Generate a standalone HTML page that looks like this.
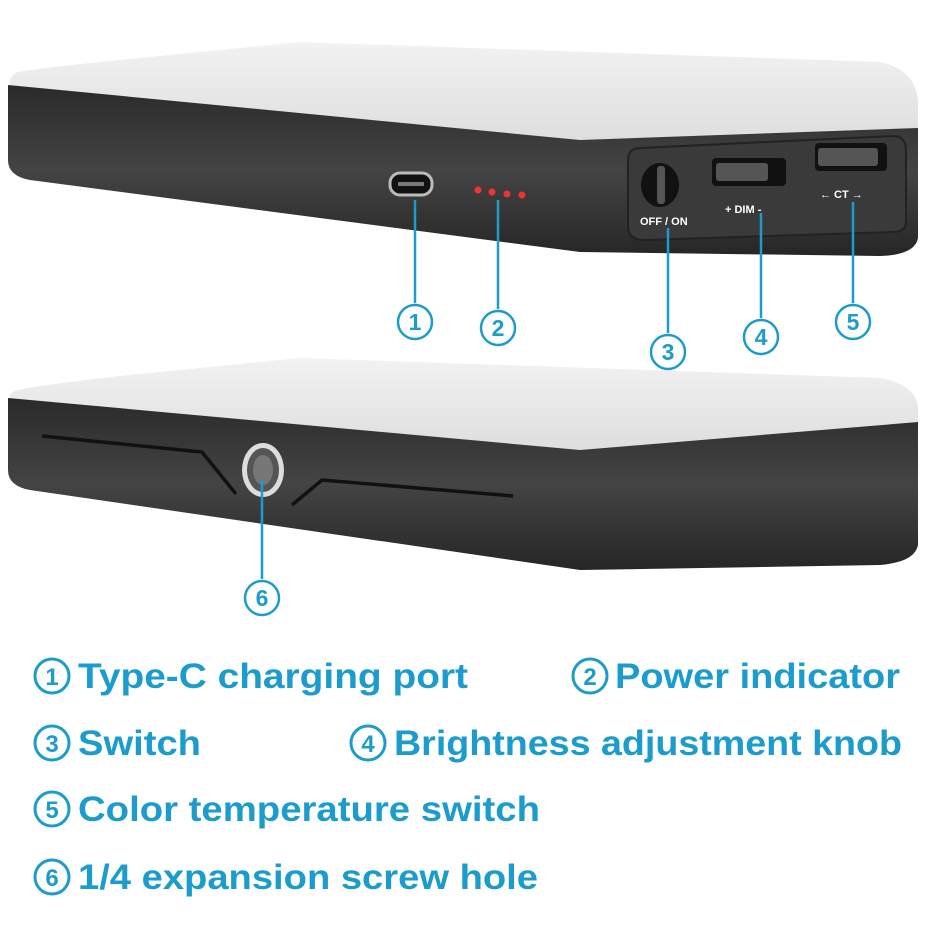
<!DOCTYPE html><html><head><style>body{margin:0;background:#fff}svg{display:block}</style></head><body>
<svg width="930" height="930" viewBox="0 0 930 930" xmlns="http://www.w3.org/2000/svg" font-family="Liberation Sans, DejaVu Sans, sans-serif">
<defs>
<linearGradient id="top" x1="0" y1="0" x2="0" y2="1"><stop offset="0" stop-color="#f2f2f2"/><stop offset="1" stop-color="#dedede"/></linearGradient>
<linearGradient id="body" x1="0" y1="0" x2="0" y2="1"><stop offset="0" stop-color="#2a2a2a"/><stop offset=".5" stop-color="#444"/><stop offset="1" stop-color="#262626"/></linearGradient>
</defs>
<!-- device 1 -->
<path d="M18,72 Q40,68 120,60 L300,42 L880,62 Q918,70 918,105 L918,130 L580,140 L10,88 Q8,76 18,72 Z" fill="url(#top)"/>
<path d="M8,85 L580,140 L918,128 L918,238 Q915,255 880,256 L580,252 L30,180 Q8,176 8,160 Z" fill="url(#body)"/>
<path d="M640,148 L892,136 Q906,136 906,150 L906,222 Q906,232 892,232 L645,240 Q628,240 628,226 L628,160 Q628,148 640,148Z" fill="#3a3a3a" stroke="#222" stroke-width="2"/>
<rect x="390" y="173" width="42" height="22" rx="10" fill="#111" stroke="#bbb" stroke-width="3"/>
<rect x="398" y="182" width="26" height="4" fill="#777"/>
<g fill="#e33"><circle cx="478" cy="190" r="3.5"/><circle cx="492" cy="192" r="3.5"/><circle cx="507" cy="194" r="3.5"/><circle cx="522" cy="195" r="3.5"/></g>
<ellipse cx="660" cy="185" rx="19" ry="22" fill="#111"/><rect x="657" y="166" width="8" height="38" rx="3" fill="#555"/>
<rect x="712" y="158" width="74" height="28" rx="4" fill="#111"/><rect x="716" y="163" width="52" height="18" rx="3" fill="#555"/>
<rect x="815" y="143" width="72" height="28" rx="4" fill="#111"/><rect x="818" y="148" width="60" height="18" rx="3" fill="#555"/>
<g fill="#fff" font-size="11" font-weight="bold"><text x="640" y="225">OFF / ON</text><text x="725" y="213">+  DIM  -</text><text x="820" y="198">←  CT  →</text></g>
<!-- device 2 -->
<path d="M18,390 Q40,385 120,376 L300,358 L880,378 Q918,385 918,410 L918,422 L580,450 L10,402 Q8,392 18,390 Z" fill="url(#top)"/>
<path d="M8,398 L580,450 L918,422 L918,545 Q915,562 880,565 L580,570 L30,490 Q8,486 8,470 Z" fill="url(#body)"/>
<path d="M42,436 L202,452 L236,494" fill="none" stroke="#111" stroke-width="3.5"/>
<path d="M513,496 L322,480 L292,505" fill="none" stroke="#111" stroke-width="3.5"/>
<ellipse cx="263" cy="470" rx="21" ry="27" fill="#ddd"/><ellipse cx="263" cy="470" rx="16" ry="22" fill="#555"/><ellipse cx="263" cy="470" rx="10" ry="15" fill="#777"/>
<!-- leaders -->
<g stroke="#1b9ccc" stroke-width="2.5" fill="none">
<line x1="415" y1="200" x2="415" y2="303"/><line x1="498" y1="200" x2="498" y2="309"/>
<line x1="668" y1="228" x2="668" y2="333"/><line x1="761" y1="213" x2="761" y2="318"/>
<line x1="853" y1="202" x2="853" y2="303"/><line x1="262" y1="480" x2="262" y2="579"/>
<circle cx="415" cy="322" r="17"/><circle cx="498" cy="328" r="17"/><circle cx="668" cy="352" r="17"/>
<circle cx="761" cy="337" r="17"/><circle cx="853" cy="322" r="17"/><circle cx="262" cy="598" r="17"/>
</g>
<g fill="#1b9ccc" font-size="23" font-weight="bold" text-anchor="middle"><text x="415" y="330">1</text><text x="498" y="336">2</text><text x="668" y="360">3</text><text x="761" y="345">4</text><text x="853" y="330">5</text><text x="262" y="606">6</text></g>
<!-- legend -->
<g stroke="#1b9ccc" stroke-width="3" fill="none">
<circle cx="52" cy="676" r="17"/><circle cx="590" cy="676" r="17"/><circle cx="52" cy="743" r="17"/><circle cx="368" cy="743" r="17"/><circle cx="52" cy="809" r="17"/><circle cx="52" cy="877" r="17"/>
</g>
<g fill="#1b9ccc" font-size="24" font-weight="bold" text-anchor="middle"><text x="52" y="685">1</text><text x="590" y="685">2</text><text x="52" y="752">3</text><text x="368" y="752">4</text><text x="52" y="818">5</text><text x="52" y="886">6</text></g>
<g fill="#1b9ccc" font-size="35" font-weight="bold" lengthAdjust="spacingAndGlyphs">
<text x="78" y="688" textLength="390" lengthAdjust="spacingAndGlyphs">Type-C charging port</text>
<text x="615" y="688" textLength="285" lengthAdjust="spacingAndGlyphs">Power indicator</text>
<text x="78" y="755" textLength="123" lengthAdjust="spacingAndGlyphs">Switch</text>
<text x="394" y="755" textLength="508" lengthAdjust="spacingAndGlyphs">Brightness adjustment knob</text>
<text x="78" y="821" textLength="462" lengthAdjust="spacingAndGlyphs">Color temperature switch</text>
<text x="78" y="889" textLength="460" lengthAdjust="spacingAndGlyphs">1/4 expansion screw hole</text>
</g>
</svg>
</body></html>
